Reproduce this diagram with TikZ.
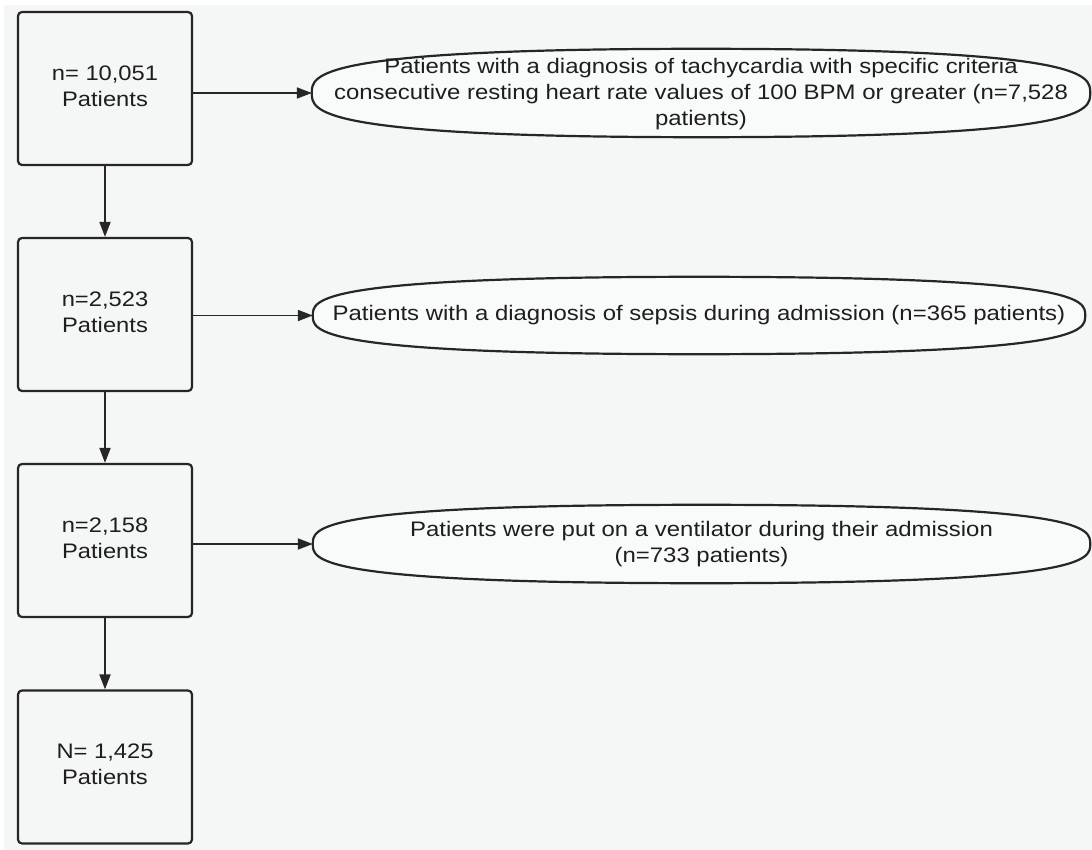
\documentclass[tikz,border=0pt]{standalone}
\usepackage{fontspec}
\setmainfont{Liberation Sans}
\usetikzlibrary{arrows.meta,calc}
\definecolor{bgc}{HTML}{F5F6F6}
\definecolor{linec}{HTML}{262626}
\definecolor{txtc}{HTML}{1E1E1E}
% #1 node name, #2 handle at the tips, #3 handle at top/bottom
\newcommand\drawfatell[3]{%
 \filldraw[exclline] (#1.west)
  .. controls ($(#1.west)!#2!(#1.north west)$) and ($(#1.north)!#3!(#1.north west)$) .. (#1.north)
  .. controls ($(#1.north)!#3!(#1.north east)$) and ($(#1.east)!#2!(#1.north east)$) .. (#1.east)
  .. controls ($(#1.east)!#2!(#1.south east)$) and ($(#1.south)!#3!(#1.south east)$) .. (#1.south)
  .. controls ($(#1.south)!#3!(#1.south west)$) and ($(#1.west)!#2!(#1.south west)$) .. (#1.west) -- cycle;}
\begin{document}
\begin{tikzpicture}[x=1pt,y=-1pt,
  stagebox/.style={draw=linec,line width=2.2pt,rounded corners=4pt,fill=bgc,
    minimum width=174pt,minimum height=153pt,inner sep=0pt},
  stagetext/.style={text=txtc,align=center,font=\fontsize{21}{26}\selectfont,inner sep=0pt,xscale=1.13,transform shape},
  exclarea/.style={draw=none,rectangle,inner sep=0pt},
  exclline/.style={draw=linec,line width=2.2pt,fill=bgc!60!white},
  exctext/.style={text=txtc,align=center,font=\fontsize{21}{26}\selectfont,inner sep=0pt,xscale=1.14,transform shape},
  flow/.style={draw=linec,line width=1.8pt,-{Triangle[length=15pt,width=11pt]}}]
\useasboundingbox (0,0) rectangle (1092,850);
\fill[white] (0,0) rectangle (1092,850);
\fill[bgc] (4,5) rectangle (1092,850);
% boxes
\node[stagebox] (b1) at (105,88.5) {};
\node[stagebox] (b2) at (105,314.5) {};
\node[stagebox] (b3) at (105,540.5) {};
\node[stagebox] (b4) at (105,767) {};
\node[stagetext] (t1) at (105,86) {n= 10,051\\Patients};
\node[stagetext] (t2) at (105,312) {n=2,523\\Patients};
\node[stagetext] (t3) at (105,538) {n=2,158\\Patients};
\node[stagetext] (t4) at (105,764) {N= 1,425\\Patients};
% exclusion ellipses
\node[exclarea,minimum width=778pt,minimum height=88pt] (e1) at (701,93) {};
\node[exclarea,minimum width=772pt,minimum height=77pt] (e2) at (699,315.5) {};
\node[exclarea,minimum width=777pt,minimum height=78pt] (e3) at (701.5,544) {};
\drawfatell{e1}{0.4}{1.0}
\drawfatell{e2}{0.4}{1.0}
\drawfatell{e3}{0.4}{1.0}
\node[exctext] (x1) at ($(e1)+(0,1.5)$) {Patients with a diagnosis of tachycardia with specific criteria\\consecutive resting heart rate values of 100 BPM or greater (n=7,528\\patients)};
\node[exctext] (x2) at (e2) {Patients with a diagnosis of sepsis during admission (n=365 patients)};
\node[exctext] (x3) at (e3) {Patients were put on a ventilator during their admission\\(n=733 patients)};
% connectors
\draw[flow] (b1.south) -- (b2.north);
\draw[flow] (b2.south) -- (b3.north);
\draw[flow] (b3.south) -- (b4.north);
\draw[flow] (b1.east |- e1.west) -- (e1.west);
\draw[flow] (b2.east |- e2.west) -- (e2.west);
\draw[flow] (b3.east |- e3.west) -- (e3.west);
\end{tikzpicture}
\end{document}
